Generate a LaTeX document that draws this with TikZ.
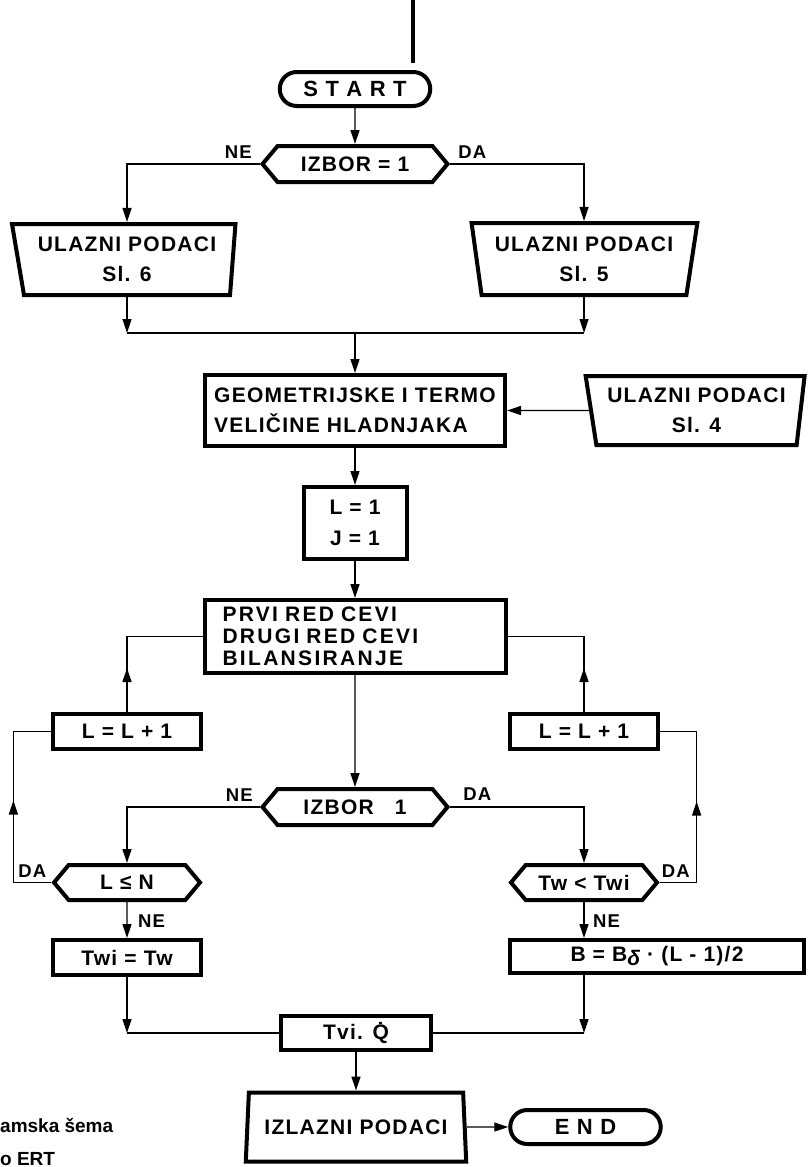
\documentclass[tikz,border=0pt]{standalone}
\usepackage{fontspec}
\setmainfont{Liberation Sans}[LetterSpace=6]
\newfontfamily\siroko{Liberation Sans}[LetterSpace=11]
\newfontfamily\obican{Liberation Sans}
\usetikzlibrary{positioning,shapes.geometric,shapes.misc,shapes.symbols,arrows.meta,decorations.markings}

\begin{document}
\begin{tikzpicture}[x=1pt, y=-1pt,
    >={Triangle[length=14pt,width=9pt]},
    every node/.style={font=\fontsize{21}{30}\selectfont\bfseries, inner sep=0pt, align=center},
    blok/.style 2 args={draw, line width=4pt, minimum width=#1, minimum height=#2},
    ulaz/.style={draw, line width=4pt, trapezium, trapezium stretches=true},
    odluka/.style={draw, line width=4pt, signal, signal to=west and east, signal pointer angle=100,
                   minimum width=185pt, minimum height=36pt},
    kraj/.style={draw, line width=4pt, rounded rectangle, minimum width=150.5pt, minimum height=34pt,
                 font=\fontsize{22}{30}\selectfont\bfseries},
    veza/.style={line width=1.3pt},
    oznaka/.style={font=\fontsize{18.5}{20}\selectfont\bfseries},
    gore/.style={postaction=decorate, decoration={markings, mark=at position #1 with {\arrow{>}}}}]
    \fill[white] (0,0) rectangle (809,1167);
    \useasboundingbox (0,0) rectangle (809,1167);

    \coordinate (vrh) at (413,0);
    \draw[line width=4pt] (vrh) -- ++(0,63);

    % ulaz
    \node[kraj] (start) at (355,89) {S T A R T};
    \node[odluka] (izb1) at (355,164) {IZBOR = 1};
    \node[ulaz, minimum width=224pt, minimum height=71pt, trapezium left angle=103, trapezium right angle=96]
        (s6) at (127,259.5) {ULAZNI PODACI\\Sl. 6};
    \node[ulaz, minimum width=226pt, minimum height=72pt, trapezium left angle=101, trapezium right angle=102]
        (s5) at (584,259) {ULAZNI PODACI\\Sl. 5};
    \node[blok={300pt}{71pt}, align=left] (geo) at (355,410.5) {GEOMETRIJSKE I TERMO\\VELIČINE HLADNJAKA};
    \node[ulaz, minimum width=219pt, minimum height=69pt, trapezium left angle=102, trapezium right angle=99]
        (s4) at (696.5,410.5) {ULAZNI PODACI\\Sl. 4};
    \node[blok={103pt}{72pt}, font=\fontsize{21}{31}\selectfont\bfseries] (l1) at (355,523) {L = 1\\J = 1};

    % proracun
    \node[blok={301pt}{73pt}, text width=265pt, inner xsep=18pt, align=left,
          font=\siroko\fontsize{21}{22}\selectfont\bfseries] (prvi) at (355,636.5)
        {PRVI RED CEVI\\DRUGI RED CEVI\\BILANSIRANJE};
    \node[blok={148pt}{35pt}] (lpl) at (127,731.5) {L = L + 1};
    \node[blok={148pt}{35pt}] (rpl) at (584,731.5) {L = L + 1};
    \node[odluka] (izb2) at (355,807) {IZBOR\quad 1};
    \node[odluka, minimum width=146pt, minimum height=35pt] (lcond) at (127,882.5) {L ≤ N};
    \node[odluka, minimum width=146pt, minimum height=35pt] (rcond) at (584,882.5) {Tw < Twi};
    \node[blok={148pt}{35pt}] (twi) at (127,957.5) {Twi = Tw};
    \node[blok={294pt}{33pt}] (bbox) at (657,956.5) {B = B\raisebox{-4pt}{\itshape δ} · (L - 1)/2};

    % izlaz
    \node[blok={150pt}{34pt}] (tvi) at (356,1033) {Tvi. Q̇};
    \node[ulaz, minimum width=221pt, minimum height=69pt, trapezium left angle=80, trapezium right angle=80]
        (izl) at (356,1127) {IZLAZNI PODACI};
    \node[kraj] (endn) at (585.5,1127) {E N D};

    % oznake
    \node[oznaka, above left=5pt and 8pt of izb1.west] (ne1) {NE};
    \node[oznaka, above right=5pt and 8pt of izb1.east] (da1) {DA};
    \node[oznaka, above left=5pt and 7pt of izb2.west] (ne2) {NE};
    \node[oznaka, above right=6pt and 13pt of izb2.east] (da2) {DA};
    \node[oznaka, above left=4.5pt and 5pt of lcond.west] (da3) {DA};
    \node[oznaka, below right=13pt and 11pt of lcond.south] (ne3) {NE};
    \node[oznaka, above right=4.5pt and 2pt of rcond.east] (da4) {DA};
    \node[oznaka, below right=13pt and 9pt of rcond.south] (ne4) {NE};

    \node[font=\obican\fontsize{19}{23}\selectfont\bfseries, anchor=base west] (natpis1) at (0,1132) {amska šema};
    \node[font=\obican\fontsize{19}{23}\selectfont\bfseries, anchor=base west] (natpis2) at (0,1165) {o ERT};

    % veze
    \draw[veza,->] (start) -- (izb1);
    \draw[veza,->] (izb1.west) -| (s6.north);
    \draw[veza,->] (izb1.east) -| (s5.north);
    \coordinate (spoj) at (355,333);
    \draw[veza,->] (s6.south) -- (s6.south |- spoj);
    \draw[veza,->] (s5.south) -- (s5.south |- spoj);
    \draw[veza] (s6.south |- spoj) -- (s5.south |- spoj);
    \draw[veza,->] (spoj) -- (geo);
    \draw[veza,->] (s4.west) -- (geo.east);
    \draw[veza,->] (geo) -- (l1);
    \draw[veza,->] (l1) -- (prvi);
    \draw[veza,->] (prvi) -- (izb2);
    \draw[veza,gore=44pt] (lpl.north) |- (prvi.west);
    \draw[veza,gore=44pt] (rpl.north) |- (prvi.east);
    \draw[veza,->] (izb2.west) -| (lcond.north);
    \draw[veza,->] (izb2.east) -| (rcond.north);
    \draw[veza,gore=120pt] (lcond.west) -- ++(-38,0) |- (lpl.west);
    \draw[veza,gore=118pt] (rcond.east) -- ++(37,0) |- (rpl.east);
    \draw[veza,->] (lcond) -- (twi);
    \draw[veza,->] (rcond.south) -- (rcond.south |- bbox.north);
    \draw[veza,->] (twi.south) -- (twi.south |- tvi.west);
    \draw[veza] (twi.south |- tvi.west) -- (tvi.west);
    \draw[veza,->] (rcond.south |- bbox.south) -- (rcond.south |- tvi.east);
    \draw[veza] (tvi.east) -- (rcond.south |- tvi.east);
    \draw[veza,->] (tvi) -- (izl);
    \draw[veza,->] (izl.east) -- (endn.west);
\end{tikzpicture}
\end{document}
